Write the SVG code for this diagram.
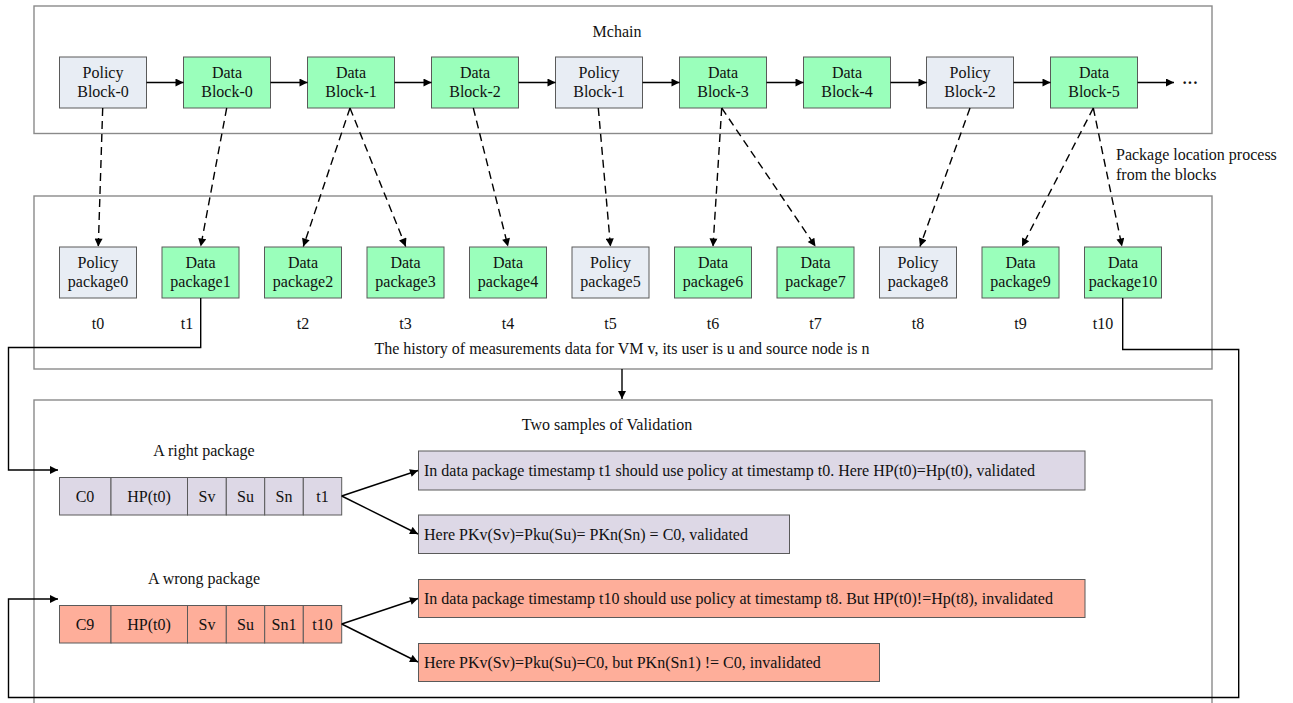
<svg xmlns="http://www.w3.org/2000/svg" width="1293" height="703" viewBox="0 0 1293 703">
  <defs>
    <marker id="arrow" viewBox="0 0 10 10" refX="10" refY="5" markerWidth="10" markerHeight="8" markerUnits="userSpaceOnUse" orient="auto">
      <path d="M0,0 L10,5 L0,10 Z" fill="#000"/>
    </marker>
    <style>
      text { font-family: "Liberation Serif", "Times New Roman", serif; font-size: 16px; fill: #111; }
      .c { text-anchor: middle; }
      .frame { fill: #fff; stroke: #8a8a8a; stroke-width: 1.4; }
      .box { stroke: #5a5a5a; stroke-width: 1; }
      .policy { fill: #e8edf4; }
      .data { fill: #9affbb; }
      .ok { fill: #ddd8e6; }
      .bad { fill: #feae9a; }
      .link { fill: none; stroke: #000; stroke-width: 1.4; }
      .dash { fill: none; stroke: #000; stroke-width: 1.4; stroke-dasharray: 8 5; }
    </style>
  </defs>

  <rect width="1293" height="703" fill="#fff"/>

  <!-- containers -->
  <g id="mchain">
    <rect class="frame" x="34" y="6" width="1178" height="127.5"/>
    <text class="c" x="617" y="37">Mchain</text>
  </g>
  <g id="history">
    <rect class="frame" x="34" y="196" width="1178" height="173"/>
    <text class="c" x="622" y="354">The history of measurements data for VM v, its user is u and source node is n</text>
  </g>
  <g id="validation">
    <rect class="frame" x="34" y="400" width="1178" height="320"/>
    <text class="c" x="607" y="430">Two samples of Validation</text>
    <text class="c" x="204" y="456">A right package</text>
    <text class="c" x="204" y="584">A wrong package</text>
  </g>

  <!-- chain blocks -->
  <g id="policy-block-0"><rect class="box policy" x="59.5" y="57" width="87" height="51"/><text class="c" x="103" y="77.5">Policy</text><text class="c" x="103" y="96.5">Block-0</text></g>
  <g id="data-block-0"><rect class="box data" x="183.5" y="57" width="87" height="51"/><text class="c" x="227" y="77.5">Data</text><text class="c" x="227" y="96.5">Block-0</text></g>
  <g id="data-block-1"><rect class="box data" x="307.5" y="57" width="87" height="51"/><text class="c" x="351" y="77.5">Data</text><text class="c" x="351" y="96.5">Block-1</text></g>
  <g id="data-block-2"><rect class="box data" x="431.5" y="57" width="87" height="51"/><text class="c" x="475" y="77.5">Data</text><text class="c" x="475" y="96.5">Block-2</text></g>
  <g id="policy-block-1"><rect class="box policy" x="555.5" y="57" width="87" height="51"/><text class="c" x="599" y="77.5">Policy</text><text class="c" x="599" y="96.5">Block-1</text></g>
  <g id="data-block-3"><rect class="box data" x="679.5" y="57" width="87" height="51"/><text class="c" x="723" y="77.5">Data</text><text class="c" x="723" y="96.5">Block-3</text></g>
  <g id="data-block-4"><rect class="box data" x="803.5" y="57" width="87" height="51"/><text class="c" x="847" y="77.5">Data</text><text class="c" x="847" y="96.5">Block-4</text></g>
  <g id="policy-block-2"><rect class="box policy" x="926.5" y="57" width="87" height="51"/><text class="c" x="970" y="77.5">Policy</text><text class="c" x="970" y="96.5">Block-2</text></g>
  <g id="data-block-5"><rect class="box data" x="1050.5" y="57" width="87" height="51"/><text class="c" x="1094" y="77.5">Data</text><text class="c" x="1094" y="96.5">Block-5</text></g>
  <g id="ellipsis"><text x="1182" y="88" font-weight="bold">···</text></g>

  <!-- packages -->
  <g id="pkg0"><rect class="box policy" x="59.5" y="247" width="77" height="51"/><text class="c" x="98" y="267.5">Policy</text><text class="c" x="98" y="286.5">package0</text><text class="c" x="98" y="328.5">t0</text></g>
  <g id="pkg1"><rect class="box data" x="162" y="247" width="77" height="51"/><text class="c" x="200.5" y="267.5">Data</text><text class="c" x="200.5" y="286.5">package1</text><text class="c" x="187" y="328.5">t1</text></g>
  <g id="pkg2"><rect class="box data" x="264.5" y="247" width="77" height="51"/><text class="c" x="303" y="267.5">Data</text><text class="c" x="303" y="286.5">package2</text><text class="c" x="303" y="328.5">t2</text></g>
  <g id="pkg3"><rect class="box data" x="367" y="247" width="77" height="51"/><text class="c" x="405.5" y="267.5">Data</text><text class="c" x="405.5" y="286.5">package3</text><text class="c" x="405.5" y="328.5">t3</text></g>
  <g id="pkg4"><rect class="box data" x="469.5" y="247" width="77" height="51"/><text class="c" x="508" y="267.5">Data</text><text class="c" x="508" y="286.5">package4</text><text class="c" x="508" y="328.5">t4</text></g>
  <g id="pkg5"><rect class="box policy" x="572" y="247" width="77" height="51"/><text class="c" x="610.5" y="267.5">Policy</text><text class="c" x="610.5" y="286.5">package5</text><text class="c" x="610.5" y="328.5">t5</text></g>
  <g id="pkg6"><rect class="box data" x="674.5" y="247" width="77" height="51"/><text class="c" x="713" y="267.5">Data</text><text class="c" x="713" y="286.5">package6</text><text class="c" x="713" y="328.5">t6</text></g>
  <g id="pkg7"><rect class="box data" x="777" y="247" width="77" height="51"/><text class="c" x="815.5" y="267.5">Data</text><text class="c" x="815.5" y="286.5">package7</text><text class="c" x="815.5" y="328.5">t7</text></g>
  <g id="pkg8"><rect class="box policy" x="879.5" y="247" width="77" height="51"/><text class="c" x="918" y="267.5">Policy</text><text class="c" x="918" y="286.5">package8</text><text class="c" x="918" y="328.5">t8</text></g>
  <g id="pkg9"><rect class="box data" x="982" y="247" width="77" height="51"/><text class="c" x="1020.5" y="267.5">Data</text><text class="c" x="1020.5" y="286.5">package9</text><text class="c" x="1020.5" y="328.5">t9</text></g>
  <g id="pkg10"><rect class="box data" x="1084.5" y="247" width="77" height="51"/><text class="c" x="1123" y="267.5">Data</text><text class="c" x="1123" y="286.5">package10</text><text class="c" x="1103" y="328.5">t10</text></g>

  <g id="location-note">
    <text x="1116" y="160">Package location process</text>
    <text x="1116" y="180">from the blocks</text>
  </g>

  <!-- package field rows -->
  <g id="right-package">
    <rect class="box ok" x="59.5" y="477.5" width="51.5" height="37.5"/>
    <rect class="box ok" x="111" y="477.5" width="76.5" height="37.5"/>
    <rect class="box ok" x="187.5" y="477.5" width="38.8" height="37.5"/>
    <rect class="box ok" x="226.3" y="477.5" width="38.4" height="37.5"/>
    <rect class="box ok" x="264.7" y="477.5" width="38.6" height="37.5"/>
    <rect class="box ok" x="303.3" y="477.5" width="38.4" height="37.5"/>
    <text class="c" x="85" y="501.5">C0</text>
    <text class="c" x="149" y="501.5">HP(t0)</text>
    <text class="c" x="207" y="501.5">Sv</text>
    <text class="c" x="245.5" y="501.5">Su</text>
    <text class="c" x="284" y="501.5">Sn</text>
    <text class="c" x="322.5" y="501.5">t1</text>
  </g>
  <g id="wrong-package">
    <rect class="box bad" x="59.5" y="605.5" width="51.5" height="37.5"/>
    <rect class="box bad" x="111" y="605.5" width="76.5" height="37.5"/>
    <rect class="box bad" x="187.5" y="605.5" width="38.8" height="37.5"/>
    <rect class="box bad" x="226.3" y="605.5" width="38.4" height="37.5"/>
    <rect class="box bad" x="264.7" y="605.5" width="38.6" height="37.5"/>
    <rect class="box bad" x="303.3" y="605.5" width="38.4" height="37.5"/>
    <text class="c" x="85" y="629.5">C9</text>
    <text class="c" x="149" y="629.5">HP(t0)</text>
    <text class="c" x="207" y="629.5">Sv</text>
    <text class="c" x="245.5" y="629.5">Su</text>
    <text class="c" x="284" y="629.5">Sn1</text>
    <text class="c" x="322.5" y="629.5">t10</text>
  </g>

  <!-- validation results -->
  <g id="check-policy-ok"><rect class="box ok" x="418.5" y="451" width="666.5" height="39"/><text x="424" y="475.5">In data package timestamp t1 should use policy at timestamp t0. Here HP(t0)=Hp(t0), validated</text></g>
  <g id="check-keys-ok"><rect class="box ok" x="418.5" y="515" width="371" height="38.5"/><text x="424" y="539.5">Here PKv(Sv)=Pku(Su)= PKn(Sn) = C0, validated</text></g>
  <g id="check-policy-bad"><rect class="box bad" x="418.5" y="579.5" width="666.5" height="38"/><text x="424" y="604">In data package timestamp t10 should use policy at timestamp t8. But HP(t0)!=Hp(t8), invalidated</text></g>
  <g id="check-keys-bad"><rect class="box bad" x="418.5" y="643.5" width="461" height="38"/><text x="424" y="667.5">Here PKv(Sv)=Pku(Su)=C0, but PKn(Sn1) != C0, invalidated</text></g>

  <!-- connectors -->
  <g id="connectors">
    <!-- chain links -->
    <line class="link" x1="146.5" y1="82.5" x2="183.5" y2="82.5" marker-end="url(#arrow)"/>
    <line class="link" x1="270.5" y1="82.5" x2="307.5" y2="82.5" marker-end="url(#arrow)"/>
    <line class="link" x1="394.5" y1="82.5" x2="431.5" y2="82.5" marker-end="url(#arrow)"/>
    <line class="link" x1="518.5" y1="82.5" x2="555.5" y2="82.5" marker-end="url(#arrow)"/>
    <line class="link" x1="642.5" y1="82.5" x2="679.5" y2="82.5" marker-end="url(#arrow)"/>
    <line class="link" x1="766.5" y1="82.5" x2="803.5" y2="82.5" marker-end="url(#arrow)"/>
    <line class="link" x1="890.5" y1="82.5" x2="926.5" y2="82.5" marker-end="url(#arrow)"/>
    <line class="link" x1="1013.5" y1="82.5" x2="1050.5" y2="82.5" marker-end="url(#arrow)"/>
    <line class="link" x1="1137.5" y1="82.5" x2="1174" y2="82.5" marker-end="url(#arrow)"/>

    <!-- block to package locations -->
    <line class="dash" x1="102.7" y1="108" x2="98.3" y2="246.5" marker-end="url(#arrow)"/>
    <line class="dash" x1="226.7" y1="108" x2="200.7" y2="246.5" marker-end="url(#arrow)"/>
    <line class="dash" x1="350" y1="108" x2="303.3" y2="246.5" marker-end="url(#arrow)"/>
    <line class="dash" x1="350" y1="108" x2="405.7" y2="246.5" marker-end="url(#arrow)"/>
    <line class="dash" x1="473.3" y1="108" x2="508" y2="246.5" marker-end="url(#arrow)"/>
    <line class="dash" x1="598.3" y1="108" x2="610.5" y2="246.5" marker-end="url(#arrow)"/>
    <line class="dash" x1="721.7" y1="108" x2="713" y2="246.5" marker-end="url(#arrow)"/>
    <line class="dash" x1="721.7" y1="108" x2="815.5" y2="246.5" marker-end="url(#arrow)"/>
    <line class="dash" x1="970" y1="108" x2="920" y2="246.5" marker-end="url(#arrow)"/>
    <line class="dash" x1="1093.3" y1="108" x2="1022" y2="246.5" marker-end="url(#arrow)"/>
    <line class="dash" x1="1093.3" y1="108" x2="1122" y2="246.5" marker-end="url(#arrow)"/>

    <!-- history to validation -->
    <line class="link" x1="622" y1="369" x2="622" y2="399" marker-end="url(#arrow)"/>

    <!-- sample packages routed into validation -->
    <polyline class="link" points="200.7,298 200.7,347.5 8.5,347.5 8.5,470 58,470" marker-end="url(#arrow)"/>
    <polyline class="link" points="1122.7,298 1122.7,349.5 1238.7,349.5 1238.7,697.5 8.5,697.5 8.5,599 58,599" marker-end="url(#arrow)"/>

    <!-- field rows to checks -->
    <line class="link" x1="341.7" y1="496" x2="418" y2="470.5" marker-end="url(#arrow)"/>
    <line class="link" x1="341.7" y1="496" x2="418" y2="534" marker-end="url(#arrow)"/>
    <line class="link" x1="341.7" y1="624" x2="418" y2="598.5" marker-end="url(#arrow)"/>
    <line class="link" x1="341.7" y1="624" x2="418" y2="662" marker-end="url(#arrow)"/>
  </g>
</svg>
